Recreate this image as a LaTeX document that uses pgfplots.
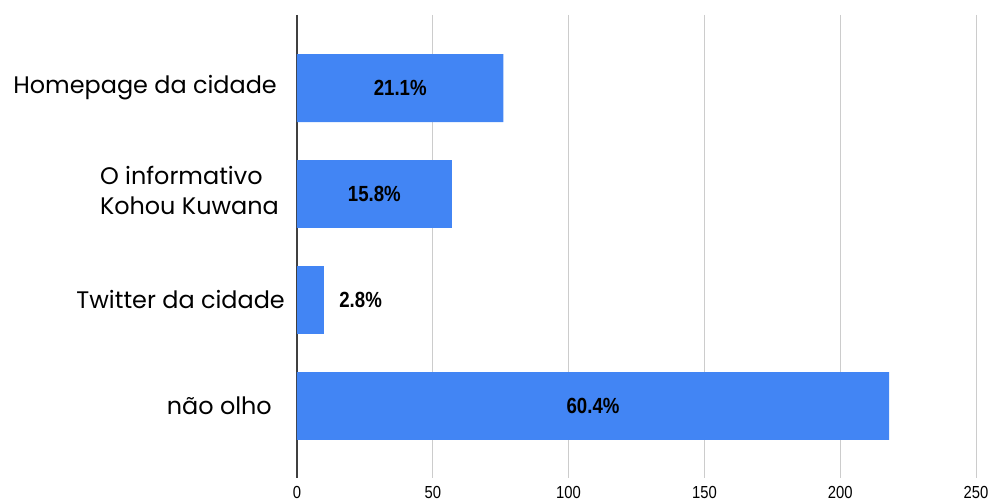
\documentclass[border=0pt]{standalone}
\usepackage{pgfplots}
\pgfplotsset{compat=1.18}
\usepackage{fontspec}
\setmainfont{Liberation Sans}
\newfontfamily\catfont{Poppins}
\newfontfamily\barfont[FakeStretch=0.85]{Liberation Sans}
\definecolor{barblue}{HTML}{4285F4}
\definecolor{gridgray}{HTML}{CCCCCC}
\begin{document}
\begin{tikzpicture}
\begin{axis}[
  at={(0,0)}, anchor=south west,
  scale only axis, width=679bp, height=463bp,
  xbar, bar width=0.64,
  xmin=0, xmax=250,
  ymin=-0.69, ymax=3.68, y dir=reverse,
  ytick={0,1,2,3},
  yticklabels={{\raisebox{4bp}{Homepage da cidade}\kern8bp},
    {\raisebox{5bp}{\begin{tabular}{@{}l@{}}O informativo\\[2bp]Kohou Kuwana\end{tabular}}\kern6bp},
    {Twitter da cidade},
    {n\~ao olho\kern13bp}},
  xtick={50,100,150,200,250},
  extra x ticks={0},
  extra x tick style={grid style={draw=black!75, line width=1.2bp}},
  xmajorgrids, grid style={draw=gridgray, line width=0.8bp},
  axis line style={draw=none},
  major tick length=0pt,
  /pgf/number format/assume math mode=true,
  xticklabel style={font=\barfont\fontsize{17.5}{17.5}\selectfont, inner sep=0pt, yshift=-8bp},
  yticklabel style={font=\catfont\fontsize{24}{28}\selectfont, inner sep=0pt, xshift=-12bp},
]
\addplot[fill=barblue, draw=none, bar shift=0pt,
  nodes near coords, point meta=explicit symbolic,
  visualization depends on={x \as \rawx},
  nodes near coords style={font=\barfont\bfseries\fontsize{22}{22}\selectfont,
    inner sep=0pt, anchor=center, xshift={-\rawx*1.358bp}}]
  coordinates {(76,0) [21.1\%] (57,1) [15.8\%] (218,3) [60.4\%]};
\addplot[fill=barblue, draw=none, bar shift=0pt,
  nodes near coords, point meta=explicit symbolic,
  nodes near coords style={font=\barfont\bfseries\fontsize{22}{22}\selectfont,
    inner sep=0pt, anchor=west, xshift=15bp}]
  coordinates {(10,2) [2.8\%]};
\end{axis}
\pgfresetboundingbox
\useasboundingbox (-297bp,-24bp) rectangle (693bp,478bp);
\end{tikzpicture}
\end{document}
